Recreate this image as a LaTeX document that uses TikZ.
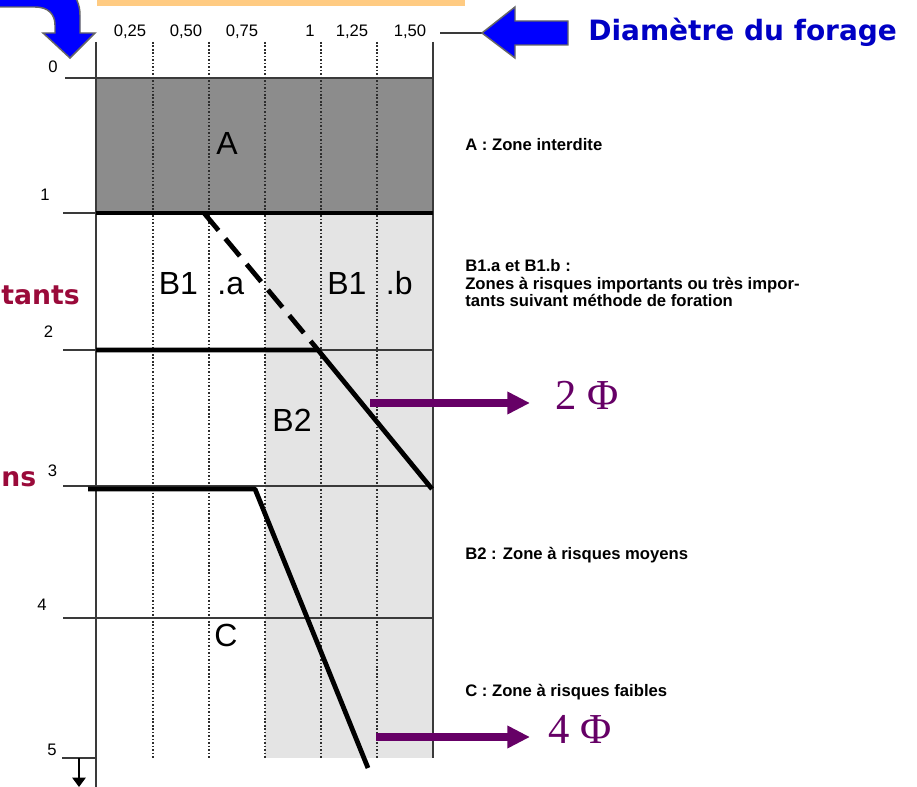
\documentclass[tikz,border=0pt]{standalone}
\usepackage{fontspec}
\setmainfont{Liberation Sans}
\newfontfamily\dejavu{DejaVu Sans}
\newfontfamily\serifph{Liberation Serif}
\usetikzlibrary{arrows.meta}
\definecolor{zoneA}{HTML}{8C8C8C}
\definecolor{zoneL}{HTML}{E4E4E4}
\definecolor{orbar}{HTML}{FFCB82}
\definecolor{ptxt}{HTML}{660066}
\definecolor{titleblue}{HTML}{0000C4}
\definecolor{arrowblue}{HTML}{0000FF}
\definecolor{redtxt}{HTML}{9A0A3A}
\definecolor{gridc}{HTML}{2E2E2E}
\definecolor{framec}{HTML}{3A3A3A}
\begin{document}
\begin{tikzpicture}[x=0.75pt,y=-0.75pt,
  framel/.style={draw=framec,line width=0.9pt},
  gridl/.style={draw=gridc,line width=1.15pt,dash pattern=on 1.2pt off 1.4pt},
  heavy/.style={draw=black,line width=3.6pt},
  ticklab/.style={font=\fontsize{12.5}{14}\selectfont,inner sep=0pt,anchor=base},
  zonelab/.style={font=\fontsize{24}{28}\selectfont,inner sep=0pt,anchor=base},
  desc/.style={font=\fontsize{12.5}{14}\selectfont\bfseries,inner sep=0pt,anchor=base west},
  phitext/.style={font=\serifph\fontsize{32}{36}\selectfont,text=ptxt,inner sep=0pt,anchor=base west},
  parrow/.style={draw=ptxt,line width=6pt,-{Triangle[length=17pt,width=16pt]}},
  redlab/.style={font=\dejavu\bfseries\fontsize{20}{24}\selectfont,text=redtxt,inner sep=0pt},
  bluearrow/.style={fill=arrowblue,draw=black!60,line width=1.1pt,line join=miter}
]
\useasboundingbox (0,0) rectangle (917,787);
\clip (0,0) rectangle (917,787);
\fill[white] (0,0) rectangle (917,787);

% orange bar
\fill[orbar] (97,0) rectangle (465,6);

% zones
\fill[zoneA] (96,78) rectangle (433,213);
\fill[zoneL] (265,213) rectangle (433,758);

% dotted verticals
\foreach \x in {153,209,265,321,377} \draw[gridl] (\x,42) -- (\x,758);

% frame
\draw[framel] (96,42) -- (96,787);
\draw[framel] (433,42) -- (433,758);
\draw[framel] (65,78) -- (433,78);
\draw[framel] (63,213) -- (433,213);
\draw[framel] (63,350) -- (433,350);
\draw[framel] (63,486) -- (433,486);
\draw[framel] (63,618) -- (433,618);
\draw[framel] (62,758) -- (96,758);

% bottom-left down arrow
\coordinate (dstart) at (79,758);
\coordinate (dend) at (79,787);
\draw[draw=black,line width=1.1pt,-{Triangle[length=7pt,width=10pt]}] (dstart) -- (dend);

% heavy lines
\draw[heavy] (96,213) -- (433,213);
\draw[heavy,dash pattern=on 17pt off 8pt] (204,213) -- (318,350);
\draw[heavy,line join=round] (96,350) -- (318,350) -- (432,489);
\draw[heavy,line join=round] (88,489) -- (255,489) -- (368,768);

% tick labels
\node[ticklab] (t025) at (130,37) {0,25};
\node[ticklab] (t050) at (186,37) {0,50};
\node[ticklab] (t075) at (242,37) {0,75};
\node[ticklab] (t100) at (310,37) {1};
\node[ticklab] (t125) at (352,37) {1,25};
\node[ticklab] (t150) at (410,37) {1,50};

\node[ticklab] (d0) at (53,73) {0};
\node[ticklab] (d1) at (45,201) {1};
\node[ticklab] (d2) at (48.5,338) {2};
\node[ticklab] (d3) at (52.5,476) {3};
\node[ticklab] (d4) at (42,610) {4};
\node[ticklab] (d5) at (52,755) {5};

% zone labels
\node[zonelab] (zA) at (227,155) {A};
\node[zonelab] (zB1a) at (201.5,295) {B1\hspace{8pt} .a};
\node[zonelab] (zB1b) at (370,295) {B1\hspace{8pt} .b};
\node[zonelab] (zB2) at (292,432) {B2};
\node[zonelab] (zC) at (226,646) {C};

% descriptions
\node[desc] (dA) at (465,151) {A : Zone interdite};
\node[desc] (dB1l1) at (465,272) {B1.a et B1.b :};
\node[desc] (dB1l2) at (465,290) {Zones à risques importants ou très impor-};
\node[desc] (dB1l3) at (465,307) {tants suivant méthode de foration};
\node[desc] (dB2) at (465,559) {B2 : Zone à risques moyens};
\node[desc] (dC) at (465,696) {C : Zone à risques faibles};

% purple arrows
\coordinate (p2s) at (370,403);
\coordinate (p2e) at (530,403);
\draw[parrow] (p2s) -- (p2e);
\node[phitext] (phi2) at (555,410) {2 Φ};
\coordinate (p4s) at (376,737);
\coordinate (p4e) at (530,737);
\draw[parrow] (p4s) -- (p4e);
\node[phitext] (phi4) at (548,743) {4 Φ};

% diameter arrow and title
\coordinate (tickend) at (440,33);
\coordinate (diamtip) at (482,33);
\draw[framel] (tickend) -- (diamtip);
\draw[bluearrow] (diamtip) -- (515,7) -- (515,21) -- (568,21) -- (568,45) -- (515,45) -- (515,58) -- cycle;
\node[font=\dejavu\bfseries\fontsize{21}{24}\selectfont,text=titleblue,inner sep=0pt,anchor=base west] (title) at (588,41) {Diamètre du forage};

% curved blue arrow top-left
\draw[bluearrow] (-5,-20) -- (40,-20) .. controls (65,-20) and (80,-5) .. (80,15) -- (80,33) -- (95,33) -- (70,58) -- (43,33) -- (55,33) -- (55,25) .. controls (55,14) and (48,7) .. (35,7) -- (-5,7) -- cycle;

% red labels at the left edge
\node[redlab,anchor=base east] (rt1) at (80,305) {tants};
\node[redlab,anchor=base west] (rt2) at (1,487) {ns};
\end{tikzpicture}
\end{document}
